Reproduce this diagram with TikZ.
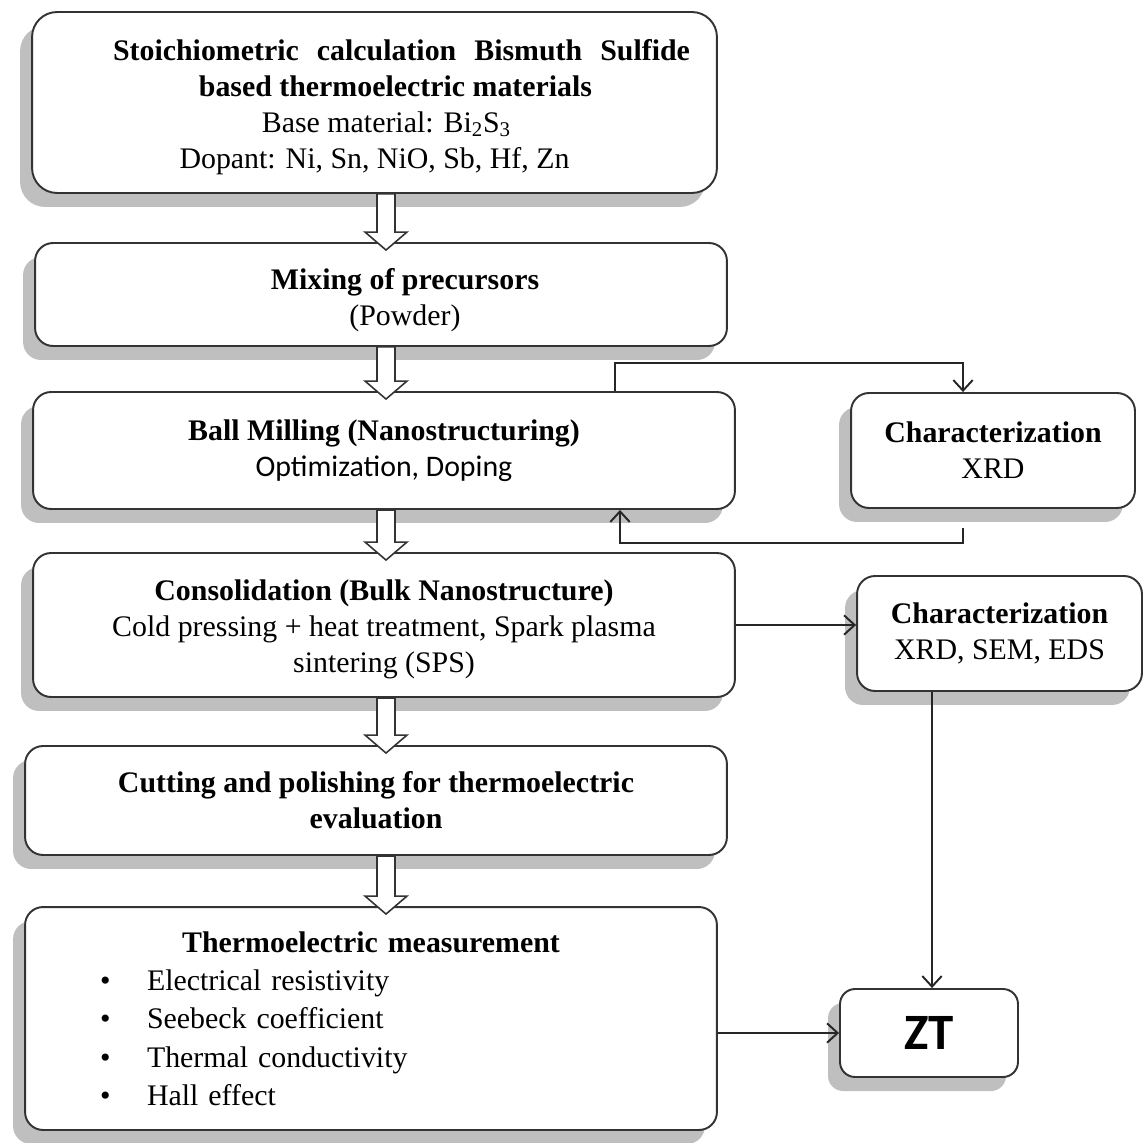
\documentclass[tikz,border=0pt]{standalone}
\usepackage{fontspec}
\setmainfont{Liberation Serif}
\newfontfamily\carlito{Carlito}
\usetikzlibrary{arrows.meta, calc, shadows}

% block arrow between two stacked boxes, on the spine
\newcommand{\blockarrow}[2]{%
  \draw[blockarr] ($(#1.south -| spine)+(-9,0)$) -- ($(#2.north -| spine)+(-9,-10)$)
    -- ++(-12,0) -- ($(#2.north -| spine)+(0,8)$) -- ($(#2.north -| spine)+(21,-10)$)
    -- ++(-12,0) -- ($(#1.south -| spine)+(9,0)$) -- cycle;}

\begin{document}
\begin{tikzpicture}[
  x=0.02cm, y=-0.02cm,
  box/.style={draw=black!80, line width=1.1pt, fill=white, rounded corners=0.36cm,
    align=center, inner sep=0pt, font=\fontsize{17}{20.5}\selectfont,
    drop shadow={shadow xshift=-0.24cm, shadow yshift=-0.28cm, fill=black!25, opacity=1}},
  conn/.style={draw=black!85, line width=1.1pt, -{Straight Barb[length=6pt, width=11pt]}},
  blockarr/.style={draw=black!80, line width=0.9pt, fill=white, line join=miter},
]
  \useasboundingbox (0,0) rectangle (1148,1142);
  \coordinate (spine) at (386,0);

  % main process column
  \node[box, minimum width=13.7cm, minimum height=3.62cm, rounded corners=0.5cm] (stoich) at (374.5,102.5)
    {\rule{0pt}{17pt}\hspace*{1.08cm}{\bfseries\makebox[11.54cm][s]{Stoichiometric calculation Bismuth Sulfide}}\\
     \hspace*{0.84cm}{\bfseries based thermoelectric materials}\\
     \hspace*{0.48cm}Base material: Bi\textsubscript{2}S\textsubscript{3}\\
     Dopant: Ni, Sn, NiO, Sb, Hf, Zn};
  \node[box, minimum width=13.84cm, minimum height=2.06cm] (mix) at (381,294.5)
    {\rule{0pt}{18pt}\hspace*{0.96cm}{\bfseries Mixing of precursors}\\\hspace*{0.96cm}(Powder)};
  \node[box, minimum width=14.04cm, minimum height=2.34cm] (ball) at (384,450.5)
    {{\bfseries Ball Milling (Nanostructuring)}\\{\carlito Optimization, Doping}};
  \node[box, minimum width=14.04cm, minimum height=2.88cm] (cons) at (384,625)
    {\rule{0pt}{17pt}{\bfseries Consolidation (Bulk Nanostructure)}\\
     Cold pressing + heat treatment, Spark plasma\\
     sintering (SPS)};
  \node[box, minimum width=14.04cm, minimum height=2.18cm] (cut) at (376,800.5)
    {{\bfseries Cutting and polishing for thermoelectric}\\{\bfseries evaluation}};
  \node[box, minimum width=13.84cm, minimum height=4.46cm, text width=13.84cm, align=left,
    font=\fontsize{17}{21.8}\selectfont] (meas) at (371,1018.5)
    {{\centering\bfseries Thermoelectric measurement\par}
     \hspace*{1.5cm}\makebox[0.94cm][l]{\textbullet}Electrical resistivity\\
     \hspace*{1.5cm}\makebox[0.94cm][l]{\textbullet}Seebeck coefficient\\
     \hspace*{1.5cm}\makebox[0.94cm][l]{\textbullet}Thermal conductivity\\
     \hspace*{1.5cm}\makebox[0.94cm][l]{\textbullet}Hall effect};

  % side column
  \node[box, minimum width=5.68cm, minimum height=2.3cm] (charA) at (993,450.5)
    {{\bfseries Characterization}\\XRD};
  \node[box, minimum width=5.7cm, minimum height=2.3cm] (charB) at (999.5,633.5)
    {{\bfseries Characterization}\\XRD, SEM, EDS};
  \node[box, minimum width=3.56cm, minimum height=1.76cm, rounded corners=0.3cm,
    font=\carlito\bfseries\fontsize{29}{30}\selectfont] (zt) at (929,1033) {ZT};

  % block arrows
  \blockarrow{stoich}{mix}
  \blockarrow{mix}{ball}
  \blockarrow{ball}{cons}
  \blockarrow{cons}{cut}
  \blockarrow{cut}{meas}

  % loop with XRD check
  \coordinate (loopl) at (615,363);
  \coordinate (loopr) at (963,363);
  \draw[conn] (ball.north -| loopl) -- (loopl) -- (loopr) -- (charA.north -| loopr);
  \coordinate (backs) at (963,528);
  \coordinate (backr) at (963,543);
  \coordinate (backl) at (620,543);
  \draw[conn] (backs) -- (backr) -- (backl) -- (ball.south -| backl);

  % to characterization and ZT
  \draw[conn] (cons.east) -- (cons.east -| charB.west);
  \coordinate (ztline) at (932,0);
  \draw[conn] (charB.south -| ztline) -- (zt.north -| ztline);
  \draw[conn] (zt.west -| meas.east) -- (zt.west);
\end{tikzpicture}
\end{document}
